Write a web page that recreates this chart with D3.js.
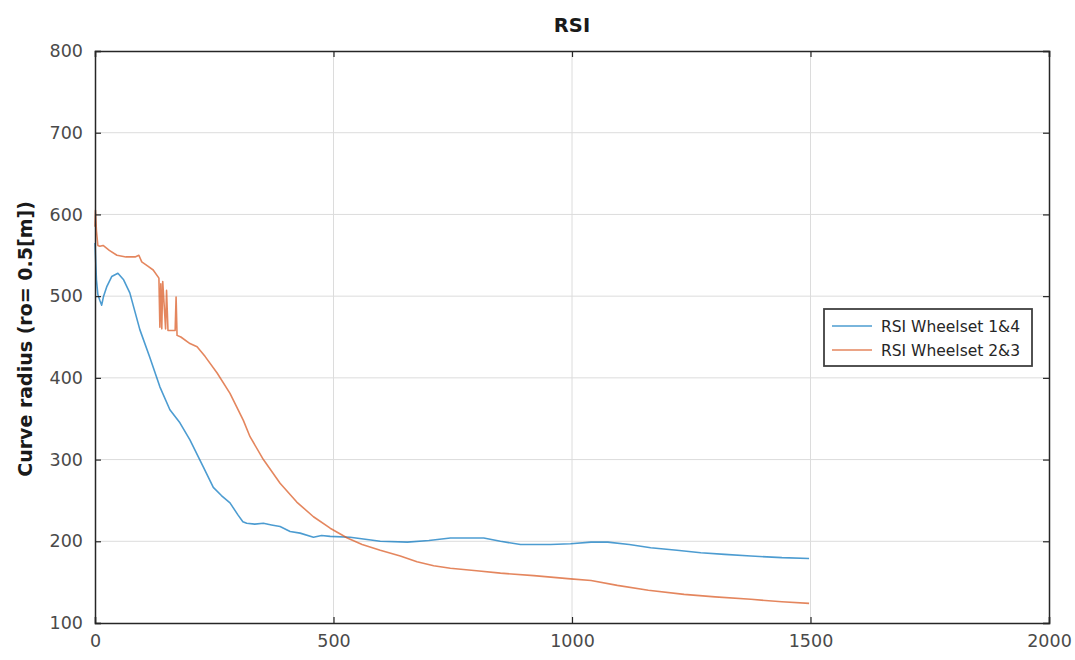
<!DOCTYPE html>
<html>
<head>
<meta charset="utf-8">
<script src="https://cdn.jsdelivr.net/npm/d3@7"></script>
<style>
  html, body { margin: 0; padding: 0; background: #fff; }
  svg { display: block; font-family: "DejaVu Sans", sans-serif; }
</style>
</head>
<body>
<svg id="chart" width="1075" height="660"></svg>
<script>
// Distance along the curve vs. RSI curve radius for the two wheelset pairs
const xTicks = [0, 500, 1000, 1500, 2000];
const yTicks = [100, 200, 300, 400, 500, 600, 700, 800];
const seriesNames = ["RSI Wheelset 1&4", "RSI Wheelset 2&3"];

const ws14X = [0, 1, 3, 6, 10, 14, 18, 25, 35, 48, 60, 73, 94, 115, 136, 157, 178, 199, 227, 248, 265, 283, 300, 310, 318, 335, 353, 370, 388, 409, 430, 458, 475, 493, 535, 598, 655, 700, 745, 815, 850, 892, 955, 997, 1040, 1075, 1120, 1165, 1220, 1270, 1320, 1375, 1440, 1497];
const ws14Y = [565, 550, 520, 502, 495, 489, 500, 512, 524, 528, 520, 504, 459, 425, 389, 361, 345, 324, 291, 266, 256, 247, 232, 224, 222, 221, 222, 220, 218, 212, 210, 205, 207, 206, 205, 200, 199, 201, 204, 204, 200, 196, 196, 197, 199, 199, 196, 192, 189, 186, 184, 182, 180, 179];

const ws23X = [0, 1, 3, 6, 10, 17, 30, 46, 65, 84, 92, 98, 110, 122, 134, 136, 138, 140, 142, 148, 150, 153, 168, 170, 172, 180, 199, 214, 231, 256, 283, 311, 325, 353, 388, 423, 458, 493, 529, 560, 598, 640, 675, 710, 745, 800, 850, 920, 997, 1040, 1095, 1160, 1235, 1300, 1375, 1440, 1497];
const ws23Y = [585, 605, 580, 562, 561, 562, 556, 550, 548, 548, 550, 542, 537, 532, 522, 462, 515, 460, 518, 460, 507, 458, 458, 499, 452, 450, 442, 438, 426, 406, 381, 348, 328, 300, 271, 248, 230, 216, 204, 196, 189, 182, 175, 170, 167, 164, 161, 158, 154, 152, 146, 140, 135, 132, 129, 126, 124];

const colors = ["#0072BD", "#D95319"];

const svg = d3.select("#chart");
const margin = { left: 95, right: 26, top: 51, bottom: 37 };
const W = 1075, H = 660;
const x0 = margin.left, x1 = W - margin.right, y0 = margin.top, y1 = H - margin.bottom;

const x = d3.scaleLinear().domain([0, 2000]).range([x0, x1]);
const y = d3.scaleLinear().domain([100, 800]).range([y1, y0]);

// grid
const grid = svg.append("g");
grid.selectAll("line.gx").data(xTicks.slice(1, -1)).join("line")
  .attr("x1", d => x(d)).attr("x2", d => x(d)).attr("y1", y0).attr("y2", y1)
  .attr("stroke", "#dcdcdc").attr("stroke-width", 1);
grid.selectAll("line.gy").data(yTicks.slice(1, -1)).join("line")
  .attr("x1", x0).attr("x2", x1).attr("y1", d => y(d)).attr("y2", d => y(d))
  .attr("stroke", "#dcdcdc").attr("stroke-width", 1);

// series lines
const line = d3.line().x(d => x(d[0])).y(d => y(d[1]));
const series = [d3.zip(ws14X, ws14Y), d3.zip(ws23X, ws23Y)];
svg.append("g").selectAll("path").data(series).join("path")
  .attr("d", line)
  .attr("fill", "none")
  .attr("stroke", (d, i) => colors[i])
  .attr("stroke-opacity", 0.7)
  .attr("stroke-width", 1.6)
  .attr("stroke-linejoin", "round");

// axes (ticks inward, box on all sides)
const axisColor = "#262626";
const axBottom = svg.append("g").attr("transform", `translate(0,${y1})`)
  .call(d3.axisBottom(x).tickValues(xTicks).tickSize(-6).tickPadding(12).tickFormat(d3.format("d")));
const axLeft = svg.append("g").attr("transform", `translate(${x0},0)`)
  .call(d3.axisLeft(y).tickValues(yTicks).tickSize(-6).tickPadding(12).tickFormat(d3.format("d")));
const axTop = svg.append("g").attr("transform", `translate(0,${y0})`)
  .call(d3.axisTop(x).tickValues(xTicks).tickSize(-6).tickFormat(""));
const axRight = svg.append("g").attr("transform", `translate(${x1},0)`)
  .call(d3.axisRight(y).tickValues(yTicks).tickSize(-6).tickFormat(""));

[axBottom, axLeft, axTop, axRight].forEach(g => {
  g.select(".domain").attr("stroke", axisColor).attr("stroke-width", 1.5);
  g.selectAll(".tick line").attr("stroke", axisColor).attr("stroke-width", 1.2);
  g.selectAll(".tick text").attr("fill", "#4a4a4a").attr("font-size", 17.5)
    .attr("font-family", "'DejaVu Sans', sans-serif");
});

// title
svg.append("text").attr("x", (x0 + x1) / 2).attr("y", 32)
  .attr("text-anchor", "middle").attr("font-size", 19.5).attr("font-weight", "bold")
  .attr("fill", "#1a1a1a").text("RSI");

// y label
svg.append("text")
  .attr("transform", `translate(32,${(y0 + y1) / 2 + 2}) rotate(-90)`)
  .attr("text-anchor", "middle").attr("font-size", 19).attr("font-weight", "bold")
  .attr("fill", "#1a1a1a").text("Curve radius (ro= 0.5[m])");

// legend
const lg = svg.append("g").attr("transform", "translate(824,309)");
lg.append("rect").attr("width", 208).attr("height", 57)
  .attr("fill", "#fff").attr("stroke", "#404040").attr("stroke-width", 1.8);
seriesNames.forEach((name, i) => {
  const yy = 17 + i * 24;
  lg.append("line").attr("x1", 8).attr("x2", 48).attr("y1", yy).attr("y2", yy)
    .attr("stroke", colors[i]).attr("stroke-opacity", 0.7).attr("stroke-width", 1.6);
  lg.append("text").attr("x", 57).attr("y", yy + 5.5)
    .attr("font-size", 15.5).attr("fill", "#262626").text(name);
});
</script>
</body>
</html>
